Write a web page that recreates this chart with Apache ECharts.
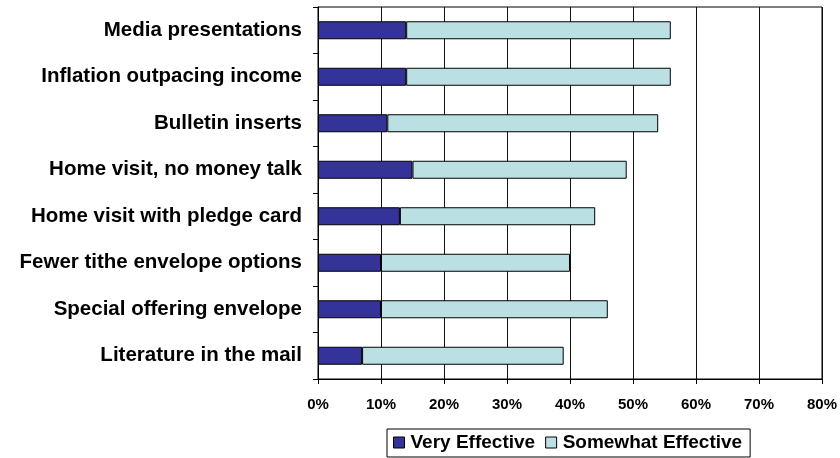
<!DOCTYPE html>
<html>
<head>
<meta charset="utf-8">
<script src="https://cdn.jsdelivr.net/npm/echarts@6/dist/echarts.min.js"></script>
<style>
  html, body { margin: 0; padding: 0; background: #fff; }
  #chart { width: 840px; height: 458px; }
</style>
</head>
<body>
<div id="chart"></div>
<script>
// Stewardship methods, share of respondents rating each as effective (%)
const categories = [
  'Media presentations',
  'Inflation outpacing income',
  'Bulletin inserts',
  'Home visit, no money talk',
  'Home visit with pledge card',
  'Fewer tithe envelope options',
  'Special offering envelope',
  'Literature in the mail'
];
const veryEffective     = [14, 14, 11, 15, 13, 10, 10, 7];
const somewhatEffective = [42, 42, 43, 34, 31, 30, 36, 32];
const seriesNames = ['Very Effective', 'Somewhat Effective'];

const font = 'Arial, "Liberation Sans", sans-serif';
const chart = echarts.init(document.getElementById('chart'), null, { renderer: 'canvas' });

chart.setOption({
  animation: false,
  backgroundColor: '#fff',
  grid: {
    left: 318, right: 18, top: 7, bottom: 79,
    show: true, borderColor: '#000', borderWidth: 1
  },
  legend: {
    bottom: 1,
    left: 387,
    data: seriesNames,
    itemWidth: 11, itemHeight: 11, itemGap: 10,
    padding: [4, 8, 5, 6],
    borderColor: '#000', borderWidth: 1,
    icon: 'rect',
    itemStyle: { borderColor: '#000', borderWidth: 1 },
    textStyle: { fontFamily: font, fontWeight: 'bold', fontSize: 19, color: '#000', padding: [0, 0, 0, 1] }
  },
  xAxis: {
    type: 'value',
    min: 0, max: 80, interval: 10,
    axisLine: { show: true, lineStyle: { color: '#000', width: 1 } },
    axisTick: { show: true, inside: false, length: 5, lineStyle: { color: '#000' } },
    splitLine: { show: true, lineStyle: { color: '#111', width: 1 } },
    axisLabel: {
      formatter: '{value}%', margin: 18,
      fontFamily: font, fontWeight: 'bold', fontSize: 15, color: '#000'
    }
  },
  yAxis: {
    type: 'category',
    data: categories,
    inverse: true,
    axisLine: { show: true, lineStyle: { color: '#000', width: 1 } },
    axisTick: { show: true, length: 5, lineStyle: { color: '#000' } },
    axisLabel: {
      margin: 16,
      fontFamily: font, fontWeight: 'bold', fontSize: 20.5, color: '#000'
    }
  },
  series: [
    {
      name: seriesNames[0], type: 'bar', stack: 'total', barWidth: 18,
      data: veryEffective,
      itemStyle: { color: '#333399', borderColor: '#000', borderWidth: 1 }
    },
    {
      name: seriesNames[1], type: 'bar', stack: 'total', barWidth: 18,
      data: somewhatEffective,
      itemStyle: { color: '#BAE0E3', borderColor: '#000', borderWidth: 1 }
    }
  ]
});
</script>
</body>
</html>
